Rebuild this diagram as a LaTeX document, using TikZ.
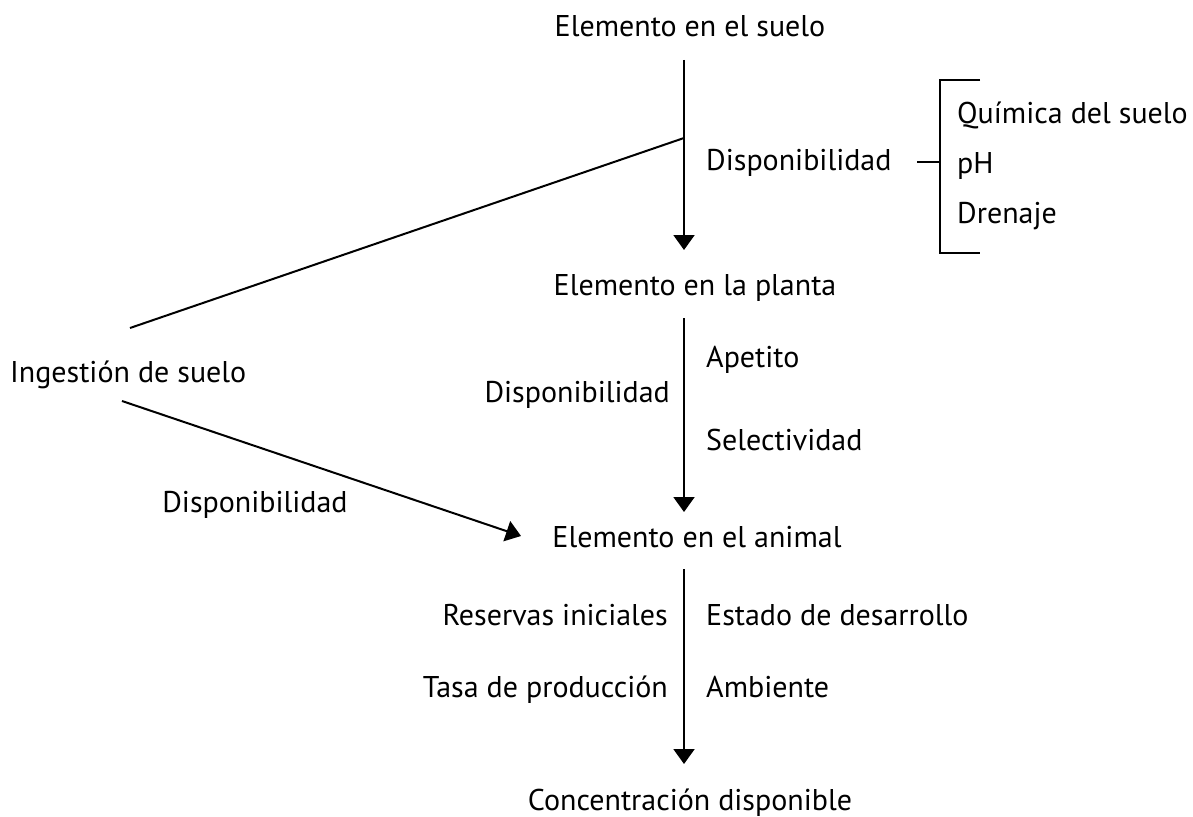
\documentclass[tikz,border=0pt]{standalone}
\usepackage{fontspec}
\setmainfont{PT Sans}
\usetikzlibrary{arrows.meta}
\tikzset{
  lbl/.style={inner sep=0pt, font=\fontsize{30}{36}\selectfont},
  flow/.style={line width=2pt, -{Triangle[width=21pt,length=15pt]}},
  plain/.style={line width=2pt}
}
\begin{document}
\begin{tikzpicture}[x=1pt,y=-1pt]
\useasboundingbox (0,0) rectangle (1193,816);
% main column
\node[lbl, anchor=base] (soil) at (690,37) {Elemento en el suelo};
\node[lbl, anchor=base] (plant) at (695,295) {Elemento en la planta};
\node[lbl, anchor=base] (animal) at (697,547) {Elemento en el animal};
\node[lbl, anchor=base] (conc) at (690,810) {Concentración disponible};
\coordinate (t0) at (684,60);
\coordinate (br) at (684,138);
\coordinate (t1) at (684,250);
\coordinate (t2) at (684,318);
\coordinate (t3) at (684,512);
\coordinate (t4) at (684,569);
\coordinate (t5) at (684,764);
\draw[flow] (t0) -- (t1);
\draw[flow] (t2) -- (t3);
\draw[flow] (t4) -- (t5);
% soil factors
\node[lbl, anchor=base west] (dispA) at (706,170) {Disponibilidad};
\node[lbl, anchor=base west] (quim) at (957,123) {Química del suelo};
\node[lbl, anchor=base west] (ph) at (957,173) {pH};
\node[lbl, anchor=base west] (dren) at (957,223) {Drenaje};
\coordinate (bk) at (940,162);
\draw[plain] (917,162) -- (bk);
\draw[plain] (980,80) -- (940,80) -- (940,253) -- (980,253);
% plant factors
\node[lbl, anchor=base west] (apet) at (706,367) {Apetito};
\node[lbl, anchor=base west] (selec) at (706,450) {Selectividad};
\node[lbl, anchor=base east] (dispB) at (670,402) {Disponibilidad};
% soil ingestion
\node[lbl, anchor=base west] (ingest) at (10,382) {Ingestión de suelo};
\node[lbl, anchor=base] (dispC) at (255,512) {Disponibilidad};
\coordinate (i0) at (130,328);
\coordinate (i1) at (122,401);
\coordinate (i2) at (521,536);
\draw[plain] (br) -- (i0);
\draw[flow] (i1) -- (i2);
% animal factors
\node[lbl, anchor=base east] (reserv) at (668,625) {Reservas iniciales};
\node[lbl, anchor=base east] (tasa) at (668,697) {Tasa de producción};
\node[lbl, anchor=base west] (estado) at (706,625) {Estado de desarrollo};
\node[lbl, anchor=base west] (amb) at (706,697) {Ambiente};
\end{tikzpicture}
\end{document}
